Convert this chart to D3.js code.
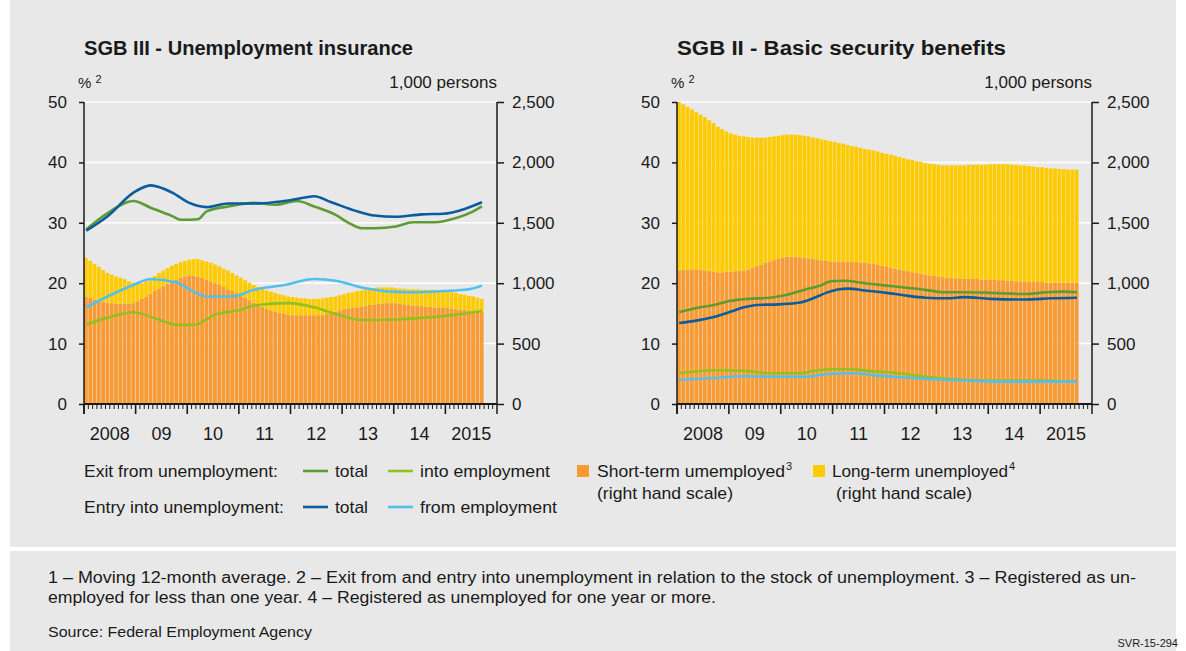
<!DOCTYPE html>
<html><head><meta charset="utf-8">
<script src="https://cdn.jsdelivr.net/npm/d3@7"></script>
<style>
body{margin:0;background:#fff}
text{font-family:"Liberation Sans",Arial,sans-serif;fill:#1a1a1a}
</style></head>
<body><svg id="c" width="1186" height="651"></svg>
<script>
// months Jan 2008 .. Sep 2015 (index 0..92)
const nMonths = 93
const years = ["2008","09","10","11","12","13","14","2015"]
const leftTicks = [0,10,20,30,40,50]
const rightTicks = [0,500,1000,1500,2000,2500]

// SGB III stock, 1,000 persons
const s3Short = [890,880,865,855,845,840,835,830,830,830,830,835,
 850,870,890,910,935,955,975,995,1015,1030,1045,1055,
 1060,1060,1055,1045,1030,1015,1000,985,970,950,935,920,
 900,880,860,840,820,805,790,775,765,755,745,740,
 735,735,735,735,735,735,735,735,745,755,765,775,
 785,790,795,800,805,810,820,825,830,830,835,835,
 835,830,825,820,815,815,810,805,805,800,800,800,
 795,790,785,780,780,775,770,765,760]
const s3Long = [320,305,295,280,265,245,235,225,215,205,185,170,
 150,130,125,130,125,130,130,130,130,130,130,130,
 135,140,145,145,150,155,155,155,150,155,150,145,
 145,145,145,145,150,150,150,155,155,155,155,150,
 150,145,140,140,135,135,135,140,135,130,125,125,
 125,130,130,135,135,140,135,135,135,135,130,130,
 125,125,130,130,135,135,135,140,140,145,140,135,
 135,135,135,130,125,120,120,115,110]
// SGB II stock, 1,000 persons
const s2Short = [1105,1110,1110,1115,1110,1110,1105,1100,1095,1090,1090,1095,
 1095,1100,1100,1105,1115,1125,1140,1155,1170,1180,1190,1200,
 1210,1220,1220,1220,1215,1210,1205,1200,1195,1190,1185,1180,
 1180,1180,1180,1180,1175,1175,1170,1170,1165,1160,1155,1145,
 1140,1130,1120,1110,1105,1100,1090,1085,1080,1070,1065,1060,
 1055,1050,1045,1045,1040,1040,1035,1035,1035,1035,1030,1030,
 1030,1030,1025,1025,1020,1020,1015,1015,1015,1010,1010,1010,
 1010,1005,1005,1005,1005,1005,1005,1005,1005]
const s2Long = [1395,1370,1350,1325,1305,1285,1270,1250,1230,1205,1185,1160,
 1145,1130,1120,1110,1095,1080,1065,1050,1035,1030,1025,1020,
 1015,1010,1010,1010,1010,1010,1010,1005,1005,1000,1000,995,
 990,980,975,965,960,955,950,940,940,940,935,935,
 930,935,935,935,930,925,930,925,925,925,925,925,
 925,925,930,930,935,935,940,945,945,945,950,950,
 955,955,960,960,965,960,965,960,960,960,955,950,
 950,950,945,945,940,940,935,935,935]

// rates in %, read at [month index, value]
const s3EntryTotal = [[0,28.7],[5,31.1],[11,35.0],[15,36.2],[20,35.0],[24,33.3],[28,32.6],[33,33.2],[40,33.2],[46,33.6],[52,34.3],[53,34.4],[57,33.4],[63,31.9],[67,31.2],[72,31.0],[78,31.4],[83,31.5],[88,32.3],[92,33.4]]
const s3ExitTotal = [[0,28.9],[5,31.6],[11,33.6],[15,32.5],[20,31.1],[22,30.5],[26,30.6],[28,31.9],[33,32.7],[39,33.3],[44,33.0],[49,33.6],[53,32.7],[58,31.3],[61,30.0],[64,29.1],[67,29.1],[72,29.4],[76,30.1],[81,30.1],[86,30.8],[90,31.9],[92,32.7]]
const s3FromEmp = [[0,16.0],[5,17.8],[11,19.7],[15,20.7],[21,20.1],[25,18.6],[28,17.8],[34,17.8],[39,18.9],[46,19.7],[53,20.7],[58,20.4],[64,19.3],[71,18.6],[76,18.5],[83,18.7],[89,19.0],[92,19.6]]
const s3IntoEmp = [[0,13.2],[5,14.3],[11,15.2],[16,14.2],[21,13.1],[25,13.1],[30,14.8],[36,15.6],[39,16.3],[47,16.7],[53,16.0],[58,14.9],[64,13.9],[72,14.0],[79,14.3],[86,14.8],[92,15.4]]
const s2ExitTotal = [[0,15.2],[4,15.9],[8,16.4],[12,17.1],[16,17.4],[21,17.6],[25,18.1],[29,18.9],[33,19.7],[35,20.3],[38,20.4],[43,20.0],[48,19.6],[52,19.3],[57,18.9],[61,18.5],[66,18.5],[72,18.4],[80,18.2],[85,18.5],[89,18.6],[92,18.5]]
const s2EntryTotal = [[0,13.4],[4,13.8],[8,14.4],[12,15.3],[15,16.0],[18,16.4],[23,16.5],[28,16.8],[31,17.5],[34,18.4],[37,19.0],[39,19.1],[43,18.8],[48,18.4],[52,18.0],[57,17.6],[62,17.5],[66,17.7],[72,17.4],[80,17.3],[86,17.5],[92,17.6]]
const s2IntoEmp = [[0,5.1],[8,5.6],[15,5.5],[21,5.1],[28,5.1],[32,5.6],[38,5.8],[45,5.4],[51,5.1],[57,4.5],[63,4.1],[72,3.9],[82,3.9],[92,3.7]]
const s2FromEmp = [[0,4.0],[8,4.3],[15,4.6],[23,4.5],[29,4.5],[35,5.0],[40,5.1],[46,4.7],[52,4.4],[59,4.1],[66,3.9],[74,3.7],[92,3.7]]

const C = {orange:"#f99b34", yellow:"#fecb00", dGreen:"#5f9b34", lGreen:"#93c01f", dBlue:"#0b5c9e", lBlue:"#52c0ef", bg:"#e8e8e8"}

const svg = d3.select("#c")
svg.append("rect").attr("x",10).attr("y",0).attr("width",1166).attr("height",547).attr("fill",C.bg)
svg.append("rect").attr("x",10).attr("y",551).attr("width",1166).attr("height",100).attr("fill",C.bg)

function panel(x0, x1, title, short, long, lines){
  const top = 102, bottom = 404
  const x = d3.scaleLinear().domain([0, 96]).range([x0, x1])
  const yL = d3.scaleLinear().domain([0, 50]).range([bottom, top])
  const yR = d3.scaleLinear().domain([0, 2500]).range([bottom, top])
  const g = svg.append("g")
  const step = x(1) - x(0)

  g.append("text").attr("x", x0).attr("y", 55).attr("font-size", 20).attr("font-weight", "bold")
    .attr("textLength", title.length > 31 ? 329 : 292).attr("lengthAdjust", "spacingAndGlyphs").text(title)
  g.append("text").attr("x", x0 - 6).attr("y", 88).attr("font-size", 15).text("% ")
    .append("tspan").attr("dy", -5).attr("font-size", 11).text("2")
  g.append("text").attr("x", x1).attr("y", 88).attr("text-anchor", "end").attr("font-size", 17).text("1,000 persons")

  // grid
  g.selectAll("line.grid").data(leftTicks.slice(1)).join("line")
    .attr("x1", x0).attr("x2", x1).attr("y1", d => yL(d)).attr("y2", d => yL(d))
    .attr("stroke", "#fff").attr("stroke-width", 1.5)

  // stacked bars
  const bars = d3.range(nMonths)
  g.selectAll("rect.s").data(bars).join("rect")
    .attr("x", i => x(i)).attr("width", step - 0.5)
    .attr("y", i => yR(short[i])).attr("height", i => bottom - yR(short[i])).attr("fill", C.orange)
  g.selectAll("rect.l").data(bars).join("rect")
    .attr("x", i => x(i)).attr("width", step - 0.5)
    .attr("y", i => yR(short[i] + long[i])).attr("height", i => yR(short[i]) - yR(short[i] + long[i])).attr("fill", C.yellow)

  const line = d3.line().x(d => x(d[0]) + step / 2).y(d => yL(d[1])).curve(d3.curveMonotoneX)
  lines.forEach(([data, col]) => {
    g.append("path").attr("d", line(data)).attr("fill", "none").attr("stroke", col).attr("stroke-width", 2.6)
  })

  // axes
  const aL = g.append("g").attr("transform", `translate(${x0},0)`)
    .call(d3.axisLeft(yL).tickValues(leftTicks).tickSize(5).tickPadding(12))
  const aR = g.append("g").attr("transform", `translate(${x1},0)`)
    .call(d3.axisRight(yR).tickValues(rightTicks).tickSize(7).tickFormat(d3.format(",")).tickPadding(8))
  ;[aL, aR].forEach(a => {
    a.select(".domain").remove()
    a.selectAll("line").attr("stroke", "#1a1a1a").attr("stroke-width", 1.5)
    a.selectAll("text").attr("font-size", 17).attr("fill", "#1a1a1a").attr("font-family", "Liberation Sans, Arial, sans-serif")
  })
  ;[x0, x1].forEach(xx => g.append("line").attr("x1", xx).attr("x2", xx).attr("y1", top).attr("y2", bottom + 10)
    .attr("stroke", "#1a1a1a").attr("stroke-width", 1.5))

  g.append("line").attr("x1", x0).attr("x2", x1).attr("y1", bottom).attr("y2", bottom).attr("stroke", "#1a1a1a").attr("stroke-width", 1.8)
  g.selectAll("line.mt").data(d3.range(96)).join("line")
    .attr("x1", i => x(i)).attr("x2", i => x(i)).attr("y1", bottom)
    .attr("y2", i => bottom + (i % 12 === 0 ? 10 : 5)).attr("stroke", "#1a1a1a").attr("stroke-width", i => i % 12 === 0 ? 1.6 : 1)
  g.selectAll("text.yr").data(years).join("text")
    .attr("x", (d, k) => x(k * 12 + 6)).attr("y", 440).attr("text-anchor", "middle").attr("font-size", 18).text(d => d)
}

panel(84, 497, "SGB III - Unemployment insurance", s3Short, s3Long,
  [[s3IntoEmp, C.lGreen], [s3FromEmp, C.lBlue], [s3ExitTotal, C.dGreen], [s3EntryTotal, C.dBlue]])
panel(677, 1092, "SGB II - Basic security benefits", s2Short, s2Long,
  [[s2IntoEmp, C.lGreen], [s2FromEmp, C.lBlue], [s2ExitTotal, C.dGreen], [s2EntryTotal, C.dBlue]])

// legend
const lg = svg.append("g").attr("font-size", 17)
lg.append("text").attr("x", 84).attr("y", 477).attr("textLength", 194).attr("lengthAdjust", "spacingAndGlyphs").text("Exit from unemployment:")
lg.append("text").attr("x", 84).attr("y", 513).attr("textLength", 200).attr("lengthAdjust", "spacingAndGlyphs").text("Entry into unemployment:")
const items = [[303, 471, C.dGreen, "total", 33], [388, 471, C.lGreen, "into employment", 130],
               [303, 507, C.dBlue, "total", 33], [388, 507, C.lBlue, "from employment", 137]]
items.forEach(([x, y, c, t, w]) => {
  lg.append("line").attr("x1", x).attr("x2", x + 25).attr("y1", y).attr("y2", y).attr("stroke", c).attr("stroke-width", 2.6)
  lg.append("text").attr("x", x + 32).attr("y", y + 6).attr("textLength", w).attr("lengthAdjust", "spacingAndGlyphs").text(t)
})
const boxes = [[577, 597, C.orange, "Short-term umemployed", "3", 188, 597], [813, 832, C.yellow, "Long-term unemployed", "4", 176, 836]]
boxes.forEach(([bx, tx, c, t, sup, w, tx2]) => {
  lg.append("rect").attr("x", bx).attr("y", 465).attr("width", 12).attr("height", 12).attr("fill", c)
  lg.append("text").attr("x", tx).attr("y", 477).attr("textLength", w).attr("lengthAdjust", "spacingAndGlyphs").text(t)
  lg.append("text").attr("x", tx + w + 1).attr("y", 470).attr("font-size", 11).text(sup)
  lg.append("text").attr("x", tx2).attr("y", 499).attr("textLength", 136).attr("lengthAdjust", "spacingAndGlyphs").text("(right hand scale)")
})

// footnotes
const fn = svg.append("g").attr("font-size", 16)
fn.append("text").attr("x", 48).attr("y", 583).attr("textLength", 1088).attr("lengthAdjust", "spacingAndGlyphs")
  .text("1 – Moving 12-month average.  2 – Exit from and entry into unemployment in relation to the stock of unemployment.  3 – Registered as un-")
fn.append("text").attr("x", 48).attr("y", 603).attr("textLength", 668).attr("lengthAdjust", "spacingAndGlyphs")
  .text("employed for less than one year.  4 – Registered as unemployed for one year or more.")
fn.append("text").attr("x", 48).attr("y", 637).attr("font-size", 15).attr("textLength", 264).attr("lengthAdjust", "spacingAndGlyphs")
  .text("Source: Federal Employment Agency")
svg.append("text").attr("x", 1178).attr("y", 647).attr("text-anchor", "end").attr("font-size", 11).text("SVR-15-294")
</script></body></html>
